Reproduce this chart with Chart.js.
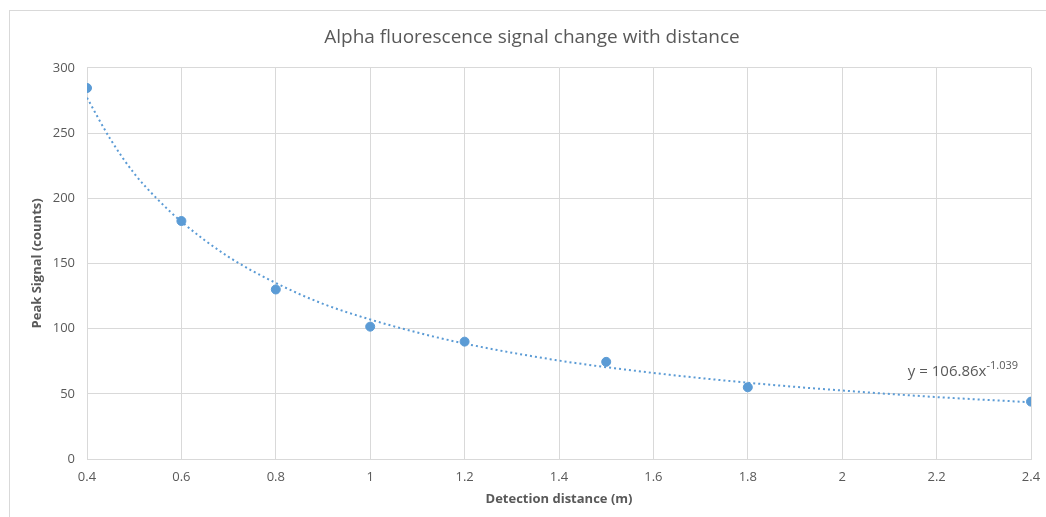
<!DOCTYPE html>
<html>
<head>
<meta charset="utf-8">
<script src="https://cdn.jsdelivr.net/npm/chart.js@4.4.1/dist/chart.umd.min.js"></script>
<style>
  html, body { margin: 0; padding: 0; background: #fff; }
  #wrap { position: relative; width: 1046px; height: 517px; }
  #frame { position: absolute; left: 9px; top: 10px; right: 0; bottom: 0;
           border-left: 1px solid #d9d9d9; border-top: 1px solid #d9d9d9; }
  canvas { position: absolute; left: 0; top: 0; }
</style>
</head>
<body>
<div id="wrap">
  <div id="frame"></div>
  <canvas id="grafico" width="1046" height="517"></canvas>
</div>
<script>
// measured points
const distancias = [0.4, 0.6, 0.8, 1.0, 1.2, 1.5, 1.8, 2.4];
const sinais = [284.5, 182.5, 130, 101.5, 90, 74.5, 55, 44];

// dotted trendline
const trendX = [0.4, 0.45, 0.5, 0.55, 0.6, 0.7, 0.8, 0.9, 1.0, 1.1, 1.2, 1.4, 1.6, 1.8, 2.0, 2.2, 2.4];
const trendY = [277, 245, 219, 199, 182, 155, 135, 119, 107, 97, 88.5, 75.5, 66, 58.5, 52.5, 47.5, 43.5];

const xTicks = [0.4, 0.6, 0.8, 1, 1.2, 1.4, 1.6, 1.8, 2, 2.2, 2.4];
const yTicks = [0, 50, 100, 150, 200, 250, 300];

const cinza = '#595959';
const azul = '#5b9bd5';
const fonte = 'Open Sans, sans-serif';

const ctx = document.getElementById('grafico').getContext('2d');

new Chart(ctx, {
    type: 'scatter',
    data: {
        datasets: [
            {
                label: 'Trend',
                data: trendX.map((x, i) => ({ x: x, y: trendY[i] })),
                showLine: true,
                borderColor: azul,
                borderWidth: 2,
                borderDash: [2, 3],
                pointRadius: 0,
                cubicInterpolationMode: 'monotone',
                fill: false
            },
            {
                label: 'Peak Signal',
                data: distancias.map((x, i) => ({ x: x, y: sinais[i] })),
                backgroundColor: azul,
                borderColor: azul,
                pointRadius: 4.5,
                showLine: false
            }
        ]
    },
    options: {
        responsive: false,
        animation: false,
        // left padding pushes the chart title right, like in the original
        layout: { padding: { left: 18, right: 0, top: 0, bottom: 0 } },
        plugins: {
            legend: { display: false },
            tooltip: { enabled: false },
            title: {
                display: true,
                text: 'Alpha fluorescence signal change with distance',
                color: cinza,
                font: { family: fonte, size: 19, weight: 'normal', lineHeight: 1.2 },
                padding: { top: 26, bottom: 19 }
            }
        },
        scales: {
            x: {
                type: 'linear',
                min: 0.4,
                max: 2.4,
                afterBuildTicks: s => { s.ticks = xTicks.map(v => ({ value: v })); },
                afterFit: s => { s.height = 58; s.paddingLeft = 0; s.paddingRight = 15; },
                grid: { color: '#d9d9d9', drawTicks: false },
                border: { color: '#d9d9d9' },
                ticks: {
                    color: cinza,
                    padding: 10,
                    font: { family: fonte, size: 13 },
                    maxRotation: 0,
                    callback: v => String(v)
                },
                title: {
                    display: true,
                    text: 'Detection distance (m)',
                    color: cinza,
                    font: { family: fonte, size: 13, weight: 'bold' },
                    padding: { top: 10, bottom: 10 }
                }
            },
            y: {
                min: 0,
                max: 300,
                afterBuildTicks: s => { s.ticks = yTicks.map(v => ({ value: v })); },
                afterFit: s => { s.width = 69; },
                grid: { color: '#d9d9d9', drawTicks: false },
                border: { color: '#d9d9d9' },
                ticks: {
                    color: cinza,
                    padding: 12,
                    font: { family: fonte, size: 13 }
                },
                title: {
                    display: true,
                    text: 'Peak Signal (counts)',
                    color: cinza,
                    font: { family: fonte, size: 13, weight: 'bold' },
                    padding: { top: 11, bottom: 11 }
                }
            }
        }
    },
    plugins: [{
        id: 'equacao',
        afterDatasetsDraw(chart) {
            const c = chart.ctx;
            const xs = chart.scales.x, ys = chart.scales.y;
            const right = xs.getPixelForValue(2.4) - 13;
            const py = ys.getPixelForValue(67);
            c.save();
            c.fillStyle = cinza;
            c.textBaseline = 'middle';
            c.textAlign = 'right';
            c.font = '11px ' + fonte;
            c.fillText('-1.039', right, py - 6);
            const w = c.measureText('-1.039').width;
            c.font = '15px ' + fonte;
            c.fillText('y = 106.86x', right - w, py);
            c.restore();
        }
    }]
});
</script>
</body>
</html>
